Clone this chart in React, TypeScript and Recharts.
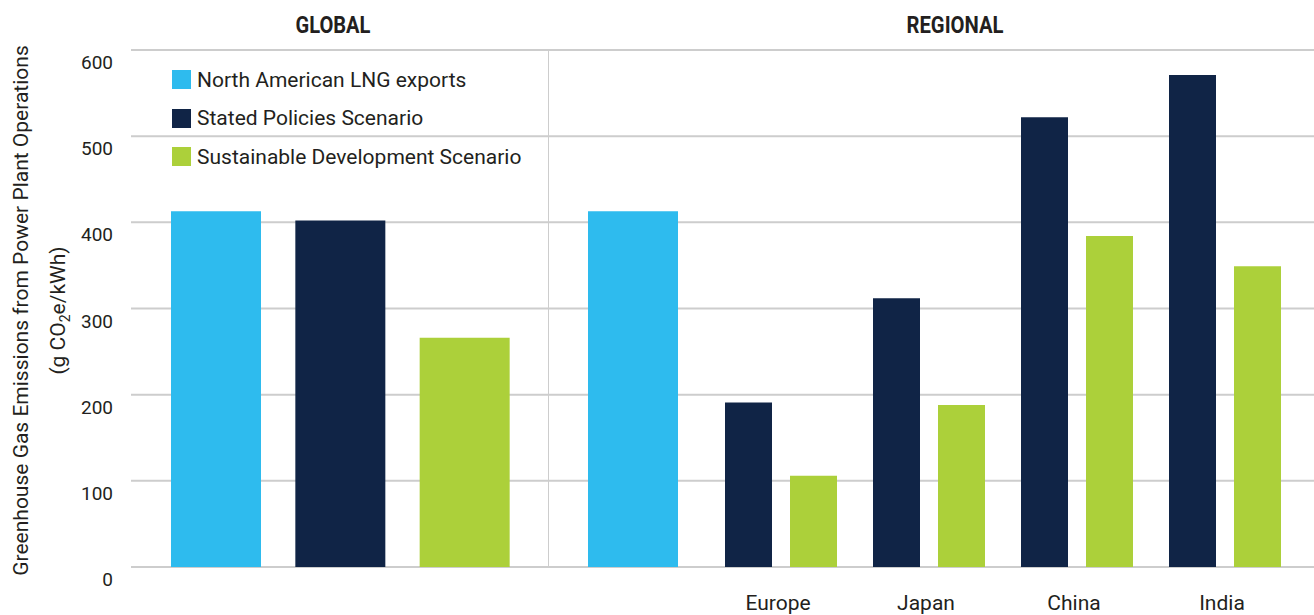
import { BarChart, Bar, XAxis, YAxis, CartesianGrid, Cell, Legend } from 'recharts';

const SERIES = ['North American LNG exports', 'Stated Policies Scenario', 'Sustainable Development Scenario'];
const COLORS = ['#2ebbee', '#102446', '#acd03a'];
const Y_TICKS = [0, 100, 200, 300, 400, 500, 600];

const GLOBAL_VALUES = [413, 402, 266];

const REGIONS = ['Europe', 'Japan', 'China', 'India'];
const REGIONAL_LNG = 413;
const REGIONAL_STATED = [191, 312, 522, 571];
const REGIONAL_SUSTAINABLE = [106, 188, 384, 349];

const FONT = 'Roboto, sans-serif';
const TEXT = '#231f20';
const GRID = '#cdcdcd';

const globalData = GLOBAL_VALUES.map((value, i) => ({ name: SERIES[i], value }));

const regionalData = [
  { name: '', lng: REGIONAL_LNG },
  ...REGIONS.map((name, i) => ({
    name,
    stated: REGIONAL_STATED[i],
    sustainable: REGIONAL_SUSTAINABLE[i],
  })),
];

const YTick = ({ x, y, payload }: any) => (
  <text x={x - 18} y={y + 19} textAnchor="end" fontSize={19} fill={TEXT} fontFamily={FONT}>
    {payload.value}
  </text>
);

const XTick = ({ x, y, payload }: any) => (
  <text x={x - 3} y={y + 43} textAnchor="middle" fontSize={21} fill={TEXT} fontFamily={FONT}>
    {payload.value}
  </text>
);

const YTitle = ({ viewBox }: any) => {
  const cy = viewBox.y + viewBox.height / 2 + 2;
  return (
    <g fontFamily={FONT} fontSize={21} fill={TEXT}>
      <text x={28} y={cy} textAnchor="middle" transform={`rotate(-90, 28, ${cy})`}>
        Greenhouse Gas Emissions from Power Plant Operations
      </text>
      <text x={65} y={cy} textAnchor="middle" transform={`rotate(-90, 65, ${cy})`}>
        <tspan>(g CO</tspan>
        <tspan dy={5} fontSize={14}>2</tspan>
        <tspan dy={-5}>e/kWh)</tspan>
      </text>
    </g>
  );
};

const LegendBox = () => (
  <div style={{ fontFamily: FONT, fontSize: 21, color: TEXT }}>
    {SERIES.map((name, i) => (
      <div
        key={name}
        style={{ display: 'flex', alignItems: 'center', height: 19, marginBottom: 19.5, whiteSpace: 'nowrap' }}
      >
        <span style={{ width: 19, height: 19, background: COLORS[i], marginRight: 6, display: 'inline-block' }} />
        <span>{name}</span>
      </div>
    ))}
  </div>
);

export default function App() {
  return (
    <div style={{ position: 'absolute', left: 0, top: 0, width: 1314, height: 615, background: '#fff' }}>
      <svg width={1314} height={50} style={{ position: 'absolute', left: 0, top: 0 }}>
        <text
          x={333}
          y={33}
          textAnchor="middle"
          fontFamily={FONT}
          fontWeight="bold"
          fontSize={23}
          fill={TEXT}
          textLength={75}
          lengthAdjust="spacingAndGlyphs"
        >
          GLOBAL
        </text>
        <text
          x={955}
          y={33}
          textAnchor="middle"
          fontFamily={FONT}
          fontWeight="bold"
          fontSize={23}
          fill={TEXT}
          textLength={97}
          lengthAdjust="spacingAndGlyphs"
        >
          REGIONAL
        </text>
      </svg>

      <div style={{ position: 'absolute', left: 0, top: 0 }}>
        <BarChart width={548} height={615} data={globalData} margin={{ top: 50, right: 0, bottom: 48, left: 0 }}>
          <CartesianGrid vertical={false} stroke={GRID} strokeWidth={2} />
          <XAxis dataKey="name" hide padding={{ left: 23, right: 21 }} />
          <YAxis
            width={131}
            domain={[0, 600]}
            ticks={Y_TICKS}
            interval={0}
            axisLine={false}
            tickLine={false}
            tickSize={0}
            tickMargin={0}
            tick={<YTick />}
            label={YTitle}
          />
          <Legend
            layout="horizontal"
            verticalAlign="middle"
            align="center"
            content={() => <LegendBox />}
            wrapperStyle={{ top: 70, left: 172, width: 'auto' }}
          />
          <Bar dataKey="value" barSize={90} isAnimationActive={false}>
            {globalData.map((d, i) => (
              <Cell key={d.name} fill={COLORS[i]} />
            ))}
          </Bar>
        </BarChart>
      </div>

      <div style={{ position: 'absolute', left: 548, top: 0 }}>
        <BarChart
          width={766}
          height={615}
          data={regionalData}
          margin={{ top: 50, right: 0, bottom: 0, left: 0 }}
          barGap={18}
        >
          <CartesianGrid vertical={false} stroke={GRID} strokeWidth={2} />
          <CartesianGrid
            horizontal={false}
            stroke={GRID}
            strokeWidth={1}
            verticalCoordinatesGenerator={({ offset }: any) => [offset.left + 0.5]}
          />
          <XAxis
            dataKey="name"
            height={48}
            padding={{ left: 11, right: 15 }}
            interval={0}
            axisLine={false}
            tickLine={false}
            tickSize={0}
            tickMargin={0}
            tick={<XTick />}
          />
          <XAxis xAxisId="lng" dataKey="name" hide padding={{ left: 11, right: 15 }} />
          <YAxis hide domain={[0, 600]} ticks={Y_TICKS} />
          <Bar xAxisId="lng" dataKey="lng" fill={COLORS[0]} barSize={90} isAnimationActive={false} />
          <Bar dataKey="stated" fill={COLORS[1]} barSize={47} isAnimationActive={false} />
          <Bar dataKey="sustainable" fill={COLORS[2]} barSize={47} isAnimationActive={false} />
        </BarChart>
      </div>
    </div>
  );
}
